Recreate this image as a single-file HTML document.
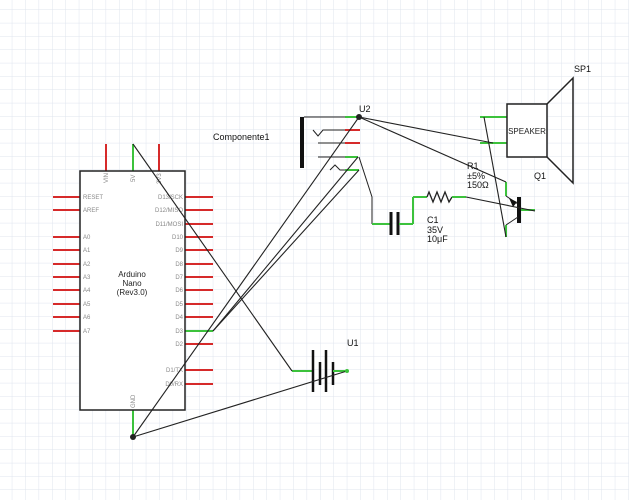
<!DOCTYPE html>
<html><head><meta charset="utf-8"><style>
html,body{margin:0;padding:0;background:#fff}
svg{display:block}
text{font-family:"Liberation Sans",sans-serif}
</style></head><body>
<svg width="629" height="500" viewBox="0 0 629 500" xmlns="http://www.w3.org/2000/svg">
<defs>
<pattern id="g" width="13.4" height="13.333" patternUnits="userSpaceOnUse" x="-1.1" y="-3.33">
<path d="M13.4 0V13.333M0 13.333H13.4" stroke="#dfe4ee" stroke-width="1" fill="none"/>
</pattern>
</defs>
<rect width="629" height="500" fill="url(#g)"/>
<!-- Arduino -->
<g stroke="#d62a2a" stroke-width="2">
<line x1="106" y1="144" x2="106" y2="171"/><line x1="159" y1="144" x2="159" y2="171"/>
<line x1="53" y1="197" x2="80" y2="197"/><line x1="53" y1="210" x2="80" y2="210"/>
<line x1="53" y1="237" x2="80" y2="237"/><line x1="53" y1="250" x2="80" y2="250"/>
<line x1="53" y1="264" x2="80" y2="264"/><line x1="53" y1="277" x2="80" y2="277"/>
<line x1="53" y1="290" x2="80" y2="290"/><line x1="53" y1="304" x2="80" y2="304"/>
<line x1="53" y1="317" x2="80" y2="317"/><line x1="53" y1="331" x2="80" y2="331"/>
<line x1="185" y1="197" x2="213" y2="197"/><line x1="185" y1="210" x2="213" y2="210"/>
<line x1="185" y1="224" x2="213" y2="224"/><line x1="185" y1="237" x2="213" y2="237"/>
<line x1="185" y1="250" x2="213" y2="250"/><line x1="185" y1="264" x2="213" y2="264"/>
<line x1="185" y1="277" x2="213" y2="277"/><line x1="185" y1="290" x2="213" y2="290"/>
<line x1="185" y1="304" x2="213" y2="304"/><line x1="185" y1="317" x2="213" y2="317"/>
<line x1="185" y1="344" x2="213" y2="344"/><line x1="185" y1="370" x2="213" y2="370"/>
<line x1="185" y1="384" x2="213" y2="384"/>
</g>
<g stroke="#3cc23c" stroke-width="2">
<line x1="133" y1="144" x2="133" y2="171"/><line x1="185" y1="331" x2="213" y2="331"/>
<line x1="133" y1="410" x2="133" y2="437"/>
</g>
<rect x="80" y="171" width="105" height="239" fill="#fff" stroke="#222" stroke-width="1.5"/>
<g font-size="6" fill="#888">
<text x="83" y="199">RESET</text><text x="83" y="212">AREF</text>
<text x="83" y="239">A0</text><text x="83" y="252">A1</text><text x="83" y="266">A2</text>
<text x="83" y="279">A3</text><text x="83" y="292">A4</text><text x="83" y="306">A5</text>
<text x="83" y="319">A6</text><text x="83" y="333">A7</text>
<g text-anchor="end">
<text x="183" y="199">D13/SCK</text><text x="183" y="212">D12/MISO</text><text x="183" y="226">D11/MOSI</text>
<text x="183" y="239">D10</text><text x="183" y="252">D9</text><text x="183" y="266">D8</text>
<text x="183" y="279">D7</text><text x="183" y="292">D6</text><text x="183" y="306">D5</text>
<text x="183" y="319">D4</text><text x="183" y="333">D3</text><text x="183" y="346">D2</text>
<text x="183" y="372">D1/TX</text><text x="183" y="386">D0/RX</text>
</g>
<text transform="translate(108,183) rotate(-90)">VIN</text>
<text transform="translate(135,182) rotate(-90)">5V</text>
<text transform="translate(161,184) rotate(-90)">3V3</text>
<text transform="translate(135,408) rotate(-90)">GND</text>
</g>
<text x="132" y="277" font-size="8" text-anchor="middle" fill="#222">Arduino</text>
<text x="132" y="286" font-size="8" text-anchor="middle" fill="#222">Nano</text>
<text x="132" y="295" font-size="8" text-anchor="middle" fill="#222">(Rev3.0)</text>
<!-- U2 jack -->
<rect x="300" y="117" width="4" height="51" fill="#111"/>
<line x1="304" y1="117" x2="345" y2="117" stroke="#222"/>
<line x1="345" y1="117" x2="359" y2="117" stroke="#3cc23c" stroke-width="2"/>
<polyline points="313,130 318,136 323,130 345,130" fill="none" stroke="#222"/>
<line x1="345" y1="130" x2="360" y2="130" stroke="#d62a2a" stroke-width="2"/>
<line x1="318" y1="143" x2="345" y2="143" stroke="#222"/>
<line x1="345" y1="143" x2="360" y2="143" stroke="#d62a2a" stroke-width="2"/>
<line x1="318" y1="157" x2="345" y2="157" stroke="#222"/>
<line x1="345" y1="157" x2="358" y2="157" stroke="#3cc23c" stroke-width="2"/>
<polyline points="330,170 335,165 340,170 345,170" fill="none" stroke="#222"/>
<line x1="345" y1="170" x2="359" y2="170" stroke="#3cc23c" stroke-width="2"/>
<!-- speaker -->
<line x1="480" y1="117" x2="507" y2="117" stroke="#3cc23c" stroke-width="2"/>
<line x1="480" y1="143" x2="507" y2="143" stroke="#3cc23c" stroke-width="2"/>
<rect x="507" y="104" width="40" height="53" fill="#fff" stroke="#222" stroke-width="1.5"/>
<polyline points="547,104 573,78 573,183 547,157" fill="none" stroke="#222" stroke-width="1.5"/>
<text x="527" y="134" font-size="8" text-anchor="middle" fill="#222">SPEAKER</text>
<!-- C1 & R1 -->
<polyline points="359,157 372,197 372,224" fill="none" stroke="#222"/>
<line x1="372" y1="224" x2="390" y2="224" stroke="#3cc23c" stroke-width="2"/>
<line x1="391" y1="212" x2="391" y2="235" stroke="#111" stroke-width="3"/>
<line x1="398" y1="212" x2="398" y2="235" stroke="#111" stroke-width="3"/>
<line x1="399" y1="224" x2="413" y2="224" stroke="#3cc23c" stroke-width="2"/>
<line x1="413" y1="224" x2="413" y2="197" stroke="#3cc23c" stroke-width="2"/>
<line x1="413" y1="197" x2="427" y2="197" stroke="#3cc23c" stroke-width="2"/>
<polyline points="427,197 429,192 433,202 437,192 441,202 445,192 449,202 452,197" fill="none" stroke="#222" stroke-width="1.3"/>
<line x1="452" y1="197" x2="466" y2="197" stroke="#3cc23c" stroke-width="2"/>
<!-- transistor -->
<line x1="506" y1="182" x2="506" y2="196" stroke="#3cc23c" stroke-width="2"/>
<line x1="506" y1="196" x2="518" y2="204" stroke="#222"/>
<polygon points="509,198 517,202 513,207" fill="#111"/>
<rect x="517" y="197" width="4" height="26" fill="#111"/>
<line x1="521" y1="210" x2="535" y2="210" stroke="#3cc23c" stroke-width="2"/>
<line x1="518" y1="217" x2="506" y2="225" stroke="#222"/>
<line x1="506" y1="225" x2="506" y2="237" stroke="#3cc23c" stroke-width="2"/>
<!-- battery -->
<line x1="292" y1="371" x2="312" y2="371" stroke="#3cc23c" stroke-width="2"/>
<line x1="313" y1="350" x2="313" y2="392" stroke="#111" stroke-width="2.5"/>
<line x1="320" y1="362" x2="320" y2="385" stroke="#111" stroke-width="2.5"/>
<line x1="326" y1="350" x2="326" y2="392" stroke="#111" stroke-width="2.5"/>
<line x1="333" y1="362" x2="333" y2="385" stroke="#111" stroke-width="2.5"/>
<line x1="333" y1="371" x2="347" y2="371" stroke="#3cc23c" stroke-width="2"/>
<!-- wires -->
<g stroke="#222" stroke-width="1.1">
<line x1="133" y1="144" x2="292" y2="371"/>
<line x1="133" y1="437" x2="347" y2="371"/>
<line x1="133" y1="437" x2="359" y2="117"/>
<line x1="213" y1="331" x2="358" y2="157"/>
<line x1="213" y1="331" x2="359" y2="170"/>
<line x1="359" y1="117" x2="493" y2="143"/>
<line x1="359" y1="117" x2="506" y2="182"/>
<line x1="466" y1="197" x2="535" y2="211"/>
<line x1="484" y1="117" x2="506" y2="237"/>
</g>
<circle cx="133" cy="437" r="3" fill="#222"/>
<circle cx="359" cy="117" r="3" fill="#222"/>
<circle cx="347" cy="371" r="2" fill="#3cc23c"/>
<!-- labels -->
<g font-size="9" fill="#111">
<text x="213" y="140">Componente1</text>
<text x="359" y="112">U2</text>
<text x="574" y="72">SP1</text>
<text x="534" y="179">Q1</text>
<text x="467" y="169">R1</text><text x="467" y="179">±5%</text><text x="467" y="188">150Ω</text>
<text x="427" y="223">C1</text><text x="427" y="233">35V</text><text x="427" y="242">10μF</text>
<text x="347" y="346">U1</text>
</g>
</svg>
</body></html>
